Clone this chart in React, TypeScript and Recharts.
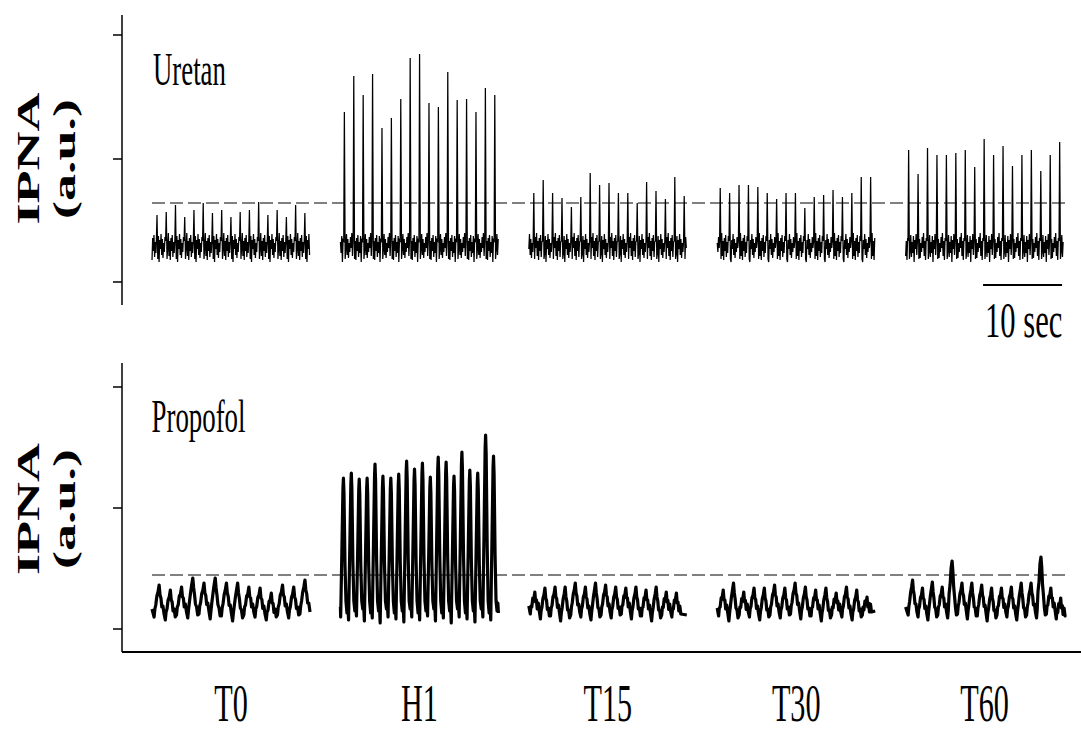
import React from 'react';
import { LineChart, Line, XAxis, YAxis, ReferenceLine } from 'recharts';

// ---------- data ----------
const categories = ['T0', 'H1', 'T15', 'T30', 'T60'];

// Uretan: spike heights (a.u. above the lowest tick), one value per burst
const uretanT0 = [67, 70, 77, 65, 72, 79, 69, 72, 65, 70, 72, 80, 67, 72, 65, 77, 69];
const uretanH1 = [170, 206, 187, 208, 154, 164, 183, 224, 228, 179, 175, 210, 182, 183, 170, 194, 187];
const uretanT15 = [89, 102, 89, 84, 75, 85, 109, 97, 99, 89, 89, 79, 100, 91, 83, 105, 86];
const uretanT30 = [94, 89, 97, 97, 95, 89, 83, 89, 89, 74, 85, 87, 92, 85, 89, 105, 105];
const uretanT60 = [132, 108, 134, 127, 127, 129, 132, 115, 143, 127, 136, 116, 127, 132, 111, 127, 140];
const uretanFirstPeak = [0.63, 0.5, 0.63, 0.38, 0.38]; // s
const uretanPeriod = [1.17, 1.19, 1.19, 1.19, 1.195]; // s
const uretanBaseline = 37;
const uretanRipple = [-15, 7, -6, 10, -12, 3, -8, 9, -17, 5, -4, 11, -10, 6, -13, 2, -7, 8, -3, 12, -11, 4];
const uretanThreshold = 79;

// Propofol: burst heights
const propofolT0 = [44, 39, 42, 51, 46, 51, 46, 46, 42, 41, 36, 44, 42, 49];
const propofolH1 = [151, 156, 150, 151, 165, 153, 151, 155, 168, 160, 166, 152, 172, 167, 153, 177, 159, 156, 194, 173];
const propofolT15 = [37, 41, 42, 42, 46, 42, 46, 44, 42, 41, 42, 39, 42, 37, 36];
const propofolT30 = [39, 46, 37, 41, 41, 44, 41, 46, 42, 39, 41, 36, 42, 39, 32];
const propofolT60 = [49, 41, 47, 42, 68, 46, 46, 44, 41, 41, 42, 46, 46, 72, 41, 31];
const propofolFirstPeak = [0.9, 0.38, 0.76, 0.76, 0.88];
const propofolPeriod = [1.42, 1.0, 1.28, 1.3, 1.25];
const propofolDips = [12, 9, 14, 11, 15, 10, 13, 8, 14];
const propofolThreshold = 54;

const uretanTicks = [0, 123, 247];
const propofolTicks = [0, 121, 242];

// ---------- layout ----------
const REC = 20; // seconds per recording
const SEG_OFFSET = 3.8;
const SEG_GAP = 23.85;
const X_MAX = 121.4;
const toX = (s: number, t: number) => SEG_OFFSET + s * SEG_GAP + t;

const FONT = '"Liberation Serif", "Times New Roman", serif';

type Pt = { x: number; v: number | null };

function buildUretan(): Pt[] {
  const series = [uretanT0, uretanH1, uretanT15, uretanT30, uretanT60];
  const pts: Pt[] = [];
  series.forEach((peaks, s) => {
    const P = uretanPeriod[s];
    const t0 = uretanFirstPeak[s];
    const B = uretanBaseline;
    let k = s * 5;
    const ripple = (t: number) => {
      pts.push({ x: toX(s, t), v: B + uretanRipple[k % uretanRipple.length] });
      k += 1;
    };
    const step = (P - 0.18) / 12;
    for (let t = 0; t < t0 - 0.12; t += step) ripple(t);
    peaks.forEach((p, i) => {
      const tp = t0 + i * P;
      pts.push({ x: toX(s, tp - 0.08), v: B + 4 });
      pts.push({ x: toX(s, tp), v: p });
      pts.push({ x: toX(s, tp + 0.1), v: B - 14 });
      const end = i < peaks.length - 1 ? tp + P - 0.1 : REC;
      for (let t = tp + 0.1 + step; t < end - 0.02; t += step) ripple(t);
    });
    pts.push({ x: toX(s, REC + 1), v: null });
  });
  return pts;
}

function buildPropofol(): Pt[] {
  const series = [propofolT0, propofolH1, propofolT15, propofolT30, propofolT60];
  const pts: Pt[] = [];
  series.forEach((peaks, s) => {
    const P = propofolPeriod[s];
    const t0 = propofolFirstPeak[s];
    const dip = (i: number) => propofolDips[(i + s * 2) % propofolDips.length];
    pts.push({ x: toX(s, 0), v: dip(0) + 8 });
    peaks.forEach((p, i) => {
      const tp = t0 + i * P;
      const lo = dip(i);
      const add = (dt: number, v: number) => pts.push({ x: toX(s, tp + dt), v });
      if (s === 1) {
        add(-0.35, lo - 2);
        add(-0.2, 0.5 * p);
        add(-0.06, 0.93 * p);
        add(0, p);
        add(0.07, 0.9 * p);
        add(0.2, 0.42 * p);
        add(0.32, 28);
        add(0.45, 16 + (i % 3) * 2);
        add(0.55, 26);
      } else {
        const mid = (lo + p) / 2;
        add(-0.45 * P, lo);
        add(-0.38 * P, lo + 8);
        add(-0.3 * P, mid - 4);
        add(-0.2 * P, mid + 5);
        add(-0.1 * P, p - 7);
        add(0, p);
        add(0.08 * P, p - 10);
        add(0.16 * P, mid + 3);
        add(0.24 * P, mid - 6);
        add(0.34 * P, lo + 11);
        add(0.44 * P, lo + 3);
      }
    });
    pts.push({ x: toX(s, REC), v: dip(3) + 6 });
    pts.push({ x: toX(s, REC + 1), v: null });
  });
  return pts;
}

const uretanData = buildUretan();
const propofolData = buildPropofol();

const NoTick = () => <g />;

// condensed text, drawn by a horizontal squeeze of the glyphs
const Squeezed = ({ x, y, sx, size, anchor, children }: any) => (
  <text
    transform={`translate(${x},${y}) scale(${sx},1)`}
    textAnchor={anchor || 'start'}
    fontFamily={FONT}
    fontSize={size}
    fill="#000"
  >
    {children}
  </text>
);

const CategoryTick = (props: any) => {
  const { x, payload } = props;
  const idx = Math.round((payload.value - SEG_OFFSET - REC / 2) / SEG_GAP);
  return (
    <Squeezed x={x} y={381} sx={0.57} size={53} anchor="middle">
      {categories[idx]}
    </Squeezed>
  );
};

const RotLabel = ({ x, y, text }: { x: number; y: number; text: string }) => (
  <text
    transform={`translate(${x},${y}) scale(0.6,1) rotate(-90)`}
    textAnchor="middle"
    fontFamily={FONT}
    fontWeight="bold"
    fontSize={54}
    fill="#000"
  >
    {text}
  </text>
);

export default function App() {
  return (
    <div style={{ position: 'absolute', left: 0, top: 0, width: 1081, height: 733, background: '#fff', overflow: 'hidden' }}>
      <div style={{ position: 'absolute', left: 0, top: 0 }}>
        <LineChart width={1081} height={340} data={uretanData} margin={{ top: 15, right: 0, bottom: 35, left: 0 }}>
          <XAxis dataKey="x" type="number" domain={[0, X_MAX]} hide allowDataOverflow />
          <YAxis
            type="number"
            domain={[-23, 267]}
            ticks={uretanTicks}
            width={122}
            tick={<NoTick />}
            tickSize={9}
            axisLine={{ stroke: '#000', strokeWidth: 1.5 }}
            tickLine={{ stroke: '#000', strokeWidth: 1.5 }}
            allowDataOverflow
          />
          <ReferenceLine
            segment={[{ x: toX(0, 0), y: uretanThreshold }, { x: toX(4, REC + 0.2), y: uretanThreshold }]}
            stroke="#000"
            strokeWidth={1}
            strokeDasharray="13 5"
          />
          <ReferenceLine
            segment={[{ x: toX(4, 9.8), y: -3 }, { x: toX(4, 19.8), y: -3 }]}
            stroke="#000"
            strokeWidth={2}
          />
          <Line
            dataKey="v"
            type="linear"
            stroke="#000"
            strokeWidth={1.25}
            dot={false}
            connectNulls={false}
            isAnimationActive={false}
          />
        </LineChart>
      </div>
      <div style={{ position: 'absolute', left: 0, top: 340 }}>
        <LineChart width={1081} height={393} data={propofolData} margin={{ top: 23, right: 0, bottom: 0, left: 0 }}>
          <XAxis
            dataKey="x"
            type="number"
            domain={[0, X_MAX]}
            ticks={categories.map((_, i) => toX(i, REC / 2))}
            interval={0}
            height={81}
            tickLine={false}
            axisLine={{ stroke: '#000', strokeWidth: 2 }}
            tick={(p: any) => <CategoryTick {...p} />}
            allowDataOverflow
          />
          <YAxis
            type="number"
            domain={[-23, 266]}
            ticks={propofolTicks}
            width={122}
            tick={<NoTick />}
            tickSize={9}
            axisLine={{ stroke: '#000', strokeWidth: 1.5 }}
            tickLine={{ stroke: '#000', strokeWidth: 1.5 }}
            allowDataOverflow
          />
          <ReferenceLine
            segment={[{ x: toX(0, 0), y: propofolThreshold }, { x: toX(4, REC + 0.2), y: propofolThreshold }]}
            stroke="#000"
            strokeWidth={1}
            strokeDasharray="13 5"
          />
          <Line
            dataKey="v"
            type="linear"
            stroke="#000"
            strokeWidth={3.2}
            strokeLinejoin="round"
            dot={false}
            connectNulls={false}
            isAnimationActive={false}
          />
        </LineChart>
      </div>
      <svg width={1081} height={733} style={{ position: 'absolute', left: 0, top: 0, pointerEvents: 'none' }}>
        <RotLabel x={39} y={158.5} text="IPNA" />
        <RotLabel x={75} y={159} text="(a.u.)" />
        <RotLabel x={39} y={509} text="IPNA" />
        <RotLabel x={75} y={509} text="(a.u.)" />
        <Squeezed x={153} y={85} sx={0.57} size={47}>Uretan</Squeezed>
        <Squeezed x={151.5} y={432} sx={0.584} size={46}>Propofol</Squeezed>
        <Squeezed x={985} y={337} sx={0.6} size={51}>10 sec</Squeezed>
      </svg>
    </div>
  );
}
